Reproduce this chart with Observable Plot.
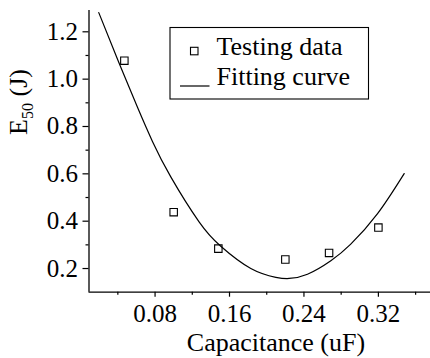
<!DOCTYPE html>
<html>
<head>
<meta charset="utf-8">
<script src="https://cdn.jsdelivr.net/npm/d3@7"></script>
<script src="https://cdn.jsdelivr.net/npm/@observablehq/plot@0.6"></script>
<style>
  html, body { margin: 0; padding: 0; background: #fff; }
  #chart svg { display: block; }
  #chart svg, #chart svg text { font-family: "Liberation Serif", "Times New Roman", serif !important; }
</style>
</head>
<body>
<div id="chart"></div>
<script>
// Testing data (capacitance uF, E50 J)
const testCap = [0.047, 0.100, 0.148, 0.220, 0.267, 0.320];
const testE50 = [1.078, 0.438, 0.284, 0.238, 0.266, 0.373];

// Fitting curve
const fitCap = [0.0195, 0.0402, 0.0611, 0.0772, 0.0969, 0.1273, 0.1506, 0.1829, 0.2098, 0.2241, 0.2438, 0.2689, 0.2903, 0.3191, 0.3477];
const fitE50 = [1.281, 1.079, 0.881, 0.737, 0.587, 0.397, 0.294, 0.200, 0.163, 0.158, 0.176, 0.233, 0.303, 0.432, 0.601];

// Axis ticks
const xTicks = [0.08, 0.16, 0.24, 0.32];
const xMinor = [0.04, 0.12, 0.20, 0.28, 0.36];
const yTicks = [0.2, 0.4, 0.6, 0.8, 1.0, 1.2];
const yMinor = [0.3, 0.5, 0.7, 0.9, 1.1];

const xTitle = "Capacitance (uF)";
const yTitleMain = "E";
const yTitleSub = "50";
const yTitleUnit = " (J)";
const legendLabels = ["Testing data", "Fitting curve"];

const points = testCap.map((c, i) => ({c, e: testE50[i]}));
const curve = fitCap.map((c, i) => ({c, e: fitE50[i]}));

const font = "Liberation Serif";

const plot = Plot.plot({
  width: 430,
  height: 358,
  marginLeft: 88.5,
  marginRight: 0,
  marginTop: 10,
  marginBottom: 66.3,
  style: {background: "white", color: "black"},
  x: {domain: [0.009, 0.376]},
  y: {domain: [0.1, 1.29]},
  marks: [
    Plot.axisX({ticks: xTicks, tickSize: 5, tickPadding: 7.5, fontSize: 25, fontFamily: font, tickFormat: d => d.toFixed(2), label: null, strokeWidth: 1.2}),
    Plot.axisX({ticks: xMinor, tickSize: 3, text: null, label: null, strokeWidth: 1.2}),
    Plot.axisY({ticks: yTicks, tickSize: 6, tickPadding: 5, fontSize: 25, fontFamily: font, tickFormat: d => d.toFixed(1), label: null, strokeWidth: 1.2}),
    Plot.axisY({ticks: yMinor, tickSize: 3, text: null, label: null, strokeWidth: 1.2}),
    Plot.ruleX([0.009], {stroke: "black", strokeWidth: 1.3}),
    Plot.ruleY([0.1], {stroke: "black", strokeWidth: 1.3}),
    Plot.line(curve, {x: "c", y: "e", curve: "natural", stroke: "black", strokeWidth: 1.2}),
    Plot.dot(points, {x: "c", y: "e", symbol: "square", r: 4.2, stroke: "black", strokeWidth: 1.1, fill: "none"})
  ]
});

document.getElementById("chart").appendChild(plot);

const svg = d3.select(plot);

function addText(sel, x, y, str, anchor) {
  return sel.append("text")
    .attr("x", x).attr("y", y)
    .attr("text-anchor", anchor)
    .style("text-anchor", anchor)
    .style("font-family", '"Liberation Serif", serif')
    .style("font-size", "26px")
    .attr("fill", "black")
    .text(str);
}

// x-axis title
addText(svg, 276, 350.5, xTitle, "middle");

// y-axis title with subscript
const yt = svg.append("text")
  .attr("transform", "translate(27,102) rotate(-90)")
  .style("text-anchor", "middle")
  .style("font-family", '"Liberation Serif", serif')
  .style("font-size", "26px")
  .attr("fill", "black");
yt.append("tspan").text(yTitleMain);
yt.append("tspan").style("font-size", "16px").attr("dy", 6).text(yTitleSub);
yt.append("tspan").attr("dy", -6).text(yTitleUnit);

// legend
const lg = svg.append("g");
lg.append("rect").attr("x", 170).attr("y", 27.5).attr("width", 198.5).attr("height", 71.5)
  .attr("fill", "white").attr("stroke", "black").attr("stroke-width", 1.1);
lg.append("rect").attr("x", 190.5).attr("y", 47.3).attr("width", 7.5).attr("height", 7.5)
  .attr("fill", "none").attr("stroke", "black").attr("stroke-width", 1.1);
lg.append("line").attr("x1", 180).attr("x2", 209.5).attr("y1", 86).attr("y2", 86)
  .attr("stroke", "black").attr("stroke-width", 1.2);
addText(lg, 216.5, 54.5, legendLabels[0], "start");
addText(lg, 216.5, 84.5, legendLabels[1], "start");
</script>
</body>
</html>
